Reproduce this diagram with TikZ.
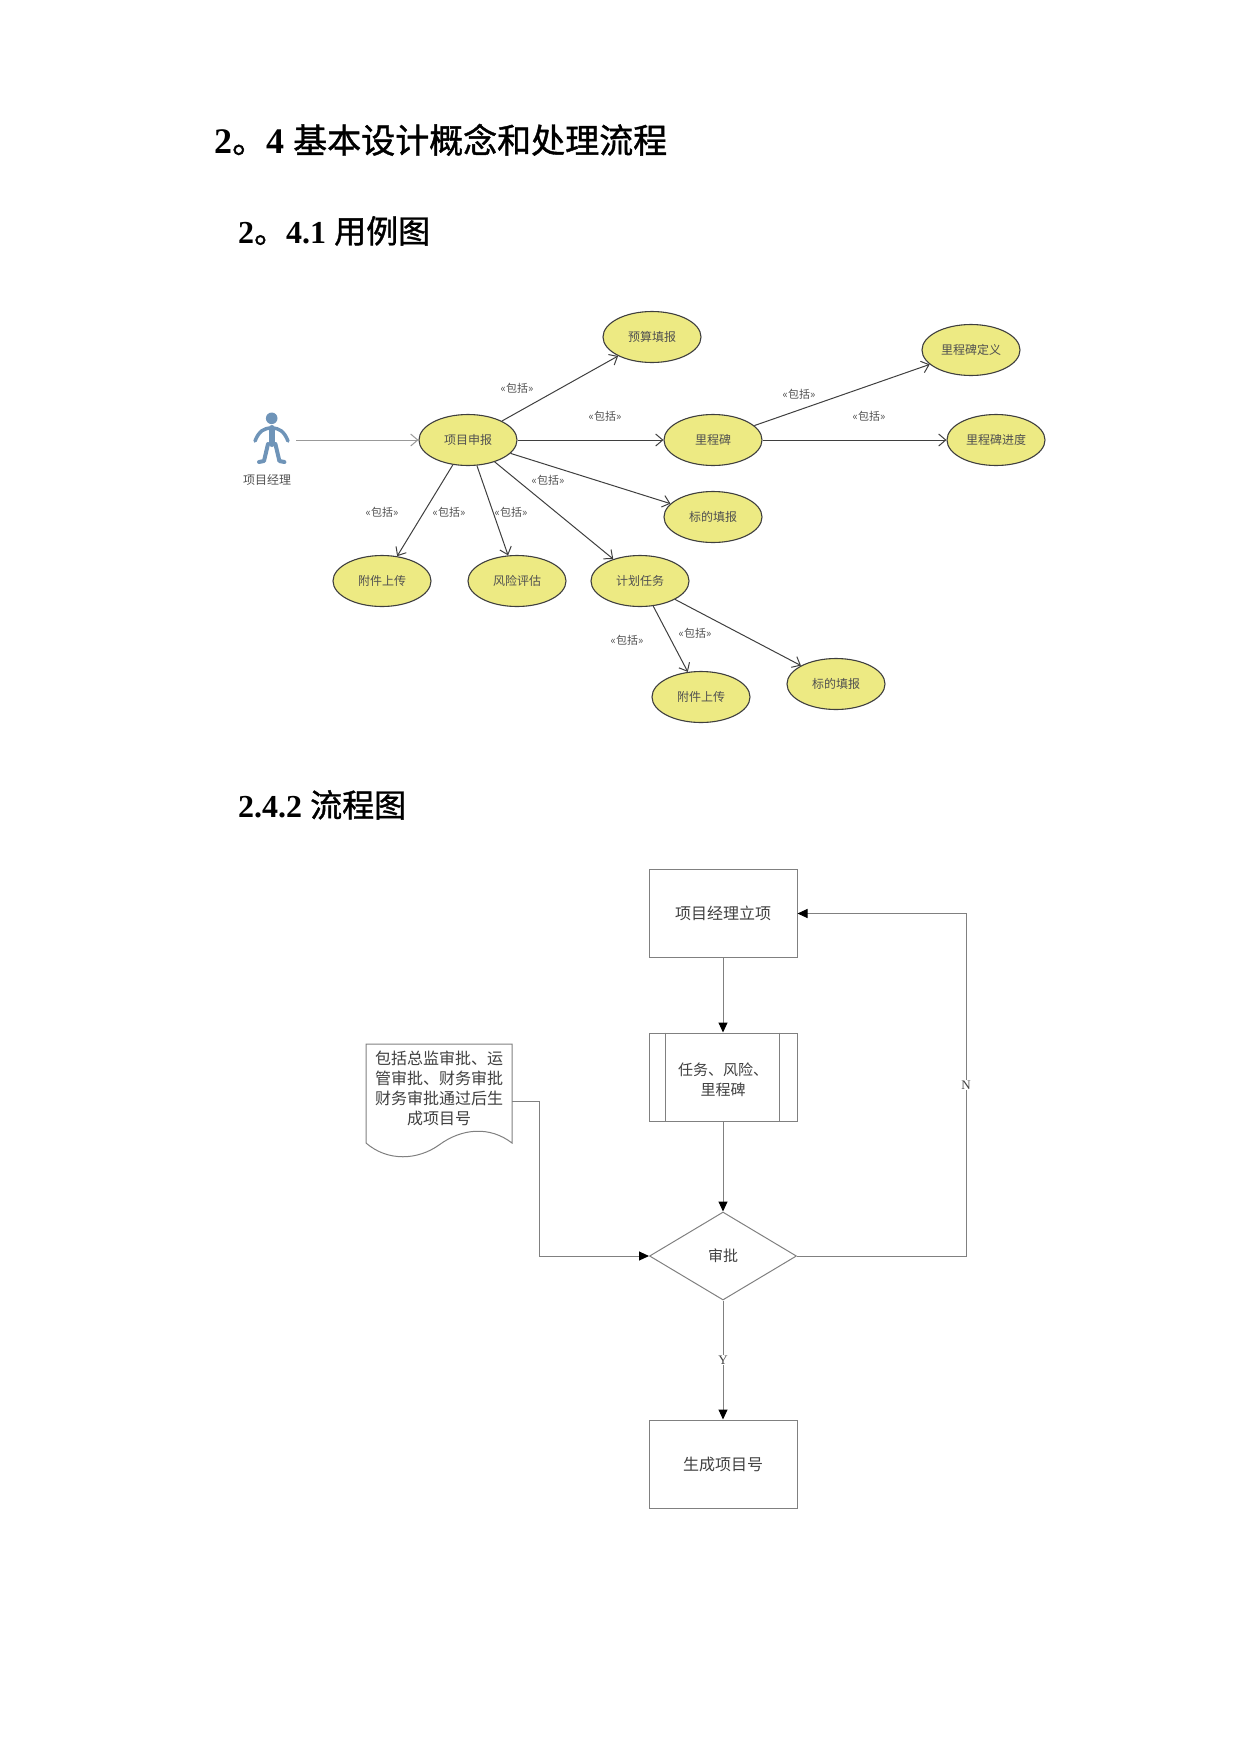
\documentclass[tikz,border=0pt]{standalone}
\usepackage{fontspec}
\setmainfont{Liberation Serif}
\newfontfamily\cjk{Noto Sans CJK SC}
\newfontfamily\cjkh[FakeBold=1.2]{Noto Sans CJK SC}
\usetikzlibrary{shapes.geometric,arrows.meta}
\definecolor{ucfill}{HTML}{EDEA83}
\definecolor{ucline}{HTML}{3F3F3F}
\definecolor{uctext}{HTML}{505050}
\definecolor{actorc}{HTML}{6F94B8}
\definecolor{fcline}{HTML}{808080}
\definecolor{fctext}{HTML}{404040}
\begin{document}
\begin{tikzpicture}[x=1pt,y=-1pt,
  uc/.style={ellipse, draw=ucline, line width=1.1pt, fill=ucfill, minimum width=98pt, minimum height=51pt, inner sep=0pt, font=\cjk\fontsize{12}{14}\selectfont, text=uctext},
  inc/.style={draw=ucline, line width=1pt, -{Straight Barb[length=7pt,width=12pt,line width=1pt]}},
  inclabel/.style={font=\cjk\fontsize{11}{13}\selectfont, text=uctext, inner sep=0pt},
  fcbox/.style={rectangle, draw=fcline, line width=1pt, minimum width=148pt, minimum height=88pt, inner sep=0pt, font=\cjk\fontsize{16}{20}\selectfont, text=fctext},
  fcarrow/.style={draw=fcline, line width=1pt, -{Triangle[length=10pt,width=9pt,color=black]}},
  fcline/.style={draw=fcline, line width=1pt},
  yn/.style={fill=white, inner sep=1pt, font=\fontsize{13}{15}\selectfont, text=fctext},
  heading/.style={anchor=base west, inner sep=0pt, font=\fontsize{32}{36}\selectfont\bfseries}
]
\useasboundingbox (0,0) rectangle (1241,1754);

% ---------- headings ----------
\node[anchor=base west, inner sep=0pt, font=\fontsize{36}{40}\selectfont\bfseries] (t1) at (214,153) {2{\cjkh\mdseries\fontsize{34}{40}\selectfont 。}4 {\cjkh\mdseries\fontsize{34}{40}\selectfont 基本设计概念和处理流程}};
\node[heading] (t2) at (238,243) {2{\cjkh\mdseries 。}4.1 {\cjkh\mdseries 用例图}};
\node[heading] (t3) at (238,817) {2.4.2 {\cjkh\mdseries 流程图}};

% ---------- use case diagram ----------
% actor
\fill[actorc] (271.7,418.3) circle (5.8);
\draw[actorc, line width=6pt, line cap=round] (271.7,428) -- (271.7,444);
\draw[actorc, line width=3.5pt, line cap=round] (255,441) .. controls (259,431) and (264,428) .. (271.7,428) .. controls (279,428) and (284,431) .. (288,441);
\draw[actorc, line width=4pt, line cap=round, line join=round] (268,444) -- (264,461) -- (259,462);
\draw[actorc, line width=4pt, line cap=round, line join=round] (275.4,444) -- (279.4,461) -- (284.4,462);
\node[font=\cjk\fontsize{12}{14}\selectfont, text=uctext, inner sep=0pt] (actorlbl) at (267,480) {项目经理};
\coordinate (actor) at (296,440);

\node[uc] (pm)    at (468,440) {项目申报};
\node[uc] (ys)    at (652,337) {预算填报};
\node[uc] (lcb)   at (713,440) {里程碑};
\node[uc] (lcbdy) at (971,350) {里程碑定义};
\node[uc] (lcbjd) at (996,440) {里程碑进度};
\node[uc] (bd1)   at (713,517) {标的填报};
\node[uc] (jh)    at (640,581) {计划任务};
\node[uc] (fj1)   at (382,581) {附件上传};
\node[uc] (fx)    at (517,581) {风险评估};
\node[uc] (fj2)   at (701,697) {附件上传};
\node[uc] (bd2)   at (836,684) {标的填报};

\draw[draw=black!40, line width=1pt, -{Straight Barb[length=7pt,width=12pt,line width=1pt]}] (actor) -- (pm);
\draw[inc] (pm) -- (ys);
\draw[inc] (pm) -- (lcb);
\draw[inc] (pm) -- (bd1);
\draw[inc] (pm) -- (jh);
\draw[inc] (pm) -- (fj1);
\draw[inc] (pm) -- (fx);
\draw[inc] (lcb) -- (lcbdy);
\draw[inc] (lcb) -- (lcbjd);
\draw[inc] (jh) -- (fj2);
\draw[inc] (jh) -- (bd2);

\node[inclabel] (l1)  at (517,388) {«包括»};
\node[inclabel] (l2)  at (605,416) {«包括»};
\node[inclabel] (l3)  at (548,480) {«包括»};
\node[inclabel] (l4)  at (382,512) {«包括»};
\node[inclabel] (l5)  at (449,512) {«包括»};
\node[inclabel] (l6)  at (511,512) {«包括»};
\node[inclabel] (l7)  at (627,640) {«包括»};
\node[inclabel] (l8)  at (695,633) {«包括»};
\node[inclabel] (l9)  at (799,394) {«包括»};
\node[inclabel] (l10) at (869,416) {«包括»};

% ---------- flow chart ----------
\node[fcbox] (b1) at (723,913.5) {项目经理立项};
\node[fcbox] (b2) at (723,1077) {};
\draw[fcline] ([xshift=17pt]b2.north west) -- ([xshift=17pt]b2.south west);
\draw[fcline] ([xshift=-18pt]b2.north east) -- ([xshift=-18pt]b2.south east);
\node[font=\cjk\fontsize{15}{20}\selectfont, text=fctext, align=center, inner sep=0pt] (b2t) at (723,1080) {任务、风险、\\里程碑};
\node[diamond, draw=fcline, line width=1pt, minimum width=147pt, minimum height=88pt, inner sep=0pt, font=\cjk\fontsize{15}{18}\selectfont, text=fctext] (d) at (723,1256) {审批};
\node[fcbox] (b3) at (723,1464) {生成项目号};

% document shape
\draw[fcline, fill=white] (366,1044) -- (512,1044) -- (512,1143) .. controls (490,1126) and (462,1128) .. (439,1145) .. controls (418,1160) and (388,1162) .. (366,1143) -- cycle;
\node[font=\cjk\fontsize{16}{20}\selectfont, text=fctext, align=center, inner sep=0pt] (doc) at (439,1088) {包括总监审批、运\\管审批、财务审批\\财务审批通过后生\\成项目号};
\coordinate (docout) at (512,1101);
\coordinate (nc) at (966,913.5);

\draw[fcarrow] (b1) -- (b2);
\draw[fcarrow] (b2) -- (d);
\draw[fcarrow] (d) -- (b3);
\draw[fcarrow] (d.east) -| (nc) -- (b1.east);
\draw[fcarrow] (docout) -- ++(27,0) |- (d.west);
\node[yn] (ylbl) at (723,1360) {Y};
\node[yn] (nlbl) at (966,1085) {N};
\end{tikzpicture}
\end{document}
